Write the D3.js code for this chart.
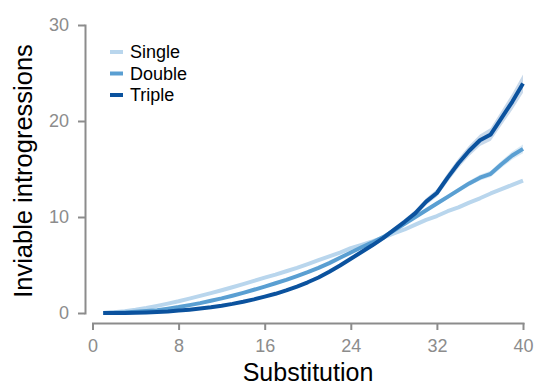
<!DOCTYPE html>
<html>
<head>
<meta charset="utf-8">
<style>
  body { margin: 0; background: #fff; }
  text { font-family: "Liberation Sans", Arial, sans-serif; }
  .axis path, .axis line { stroke: #8c8c8c; stroke-width: 2; }
  .axis text { fill: #8c8c8c; font-size: 18px; }
</style>
</head>
<body>
<svg width="535" height="386"></svg>
<script src="https://d3js.org/d3.v7.min.js"></script>
<script>

var substitution = d3.range(1, 41);

var single = [0, 0.07, 0.18, 0.33, 0.52, 0.74, 0.98, 1.22, 1.5, 1.78,
  2.07, 2.37, 2.68, 3.0, 3.34, 3.68, 4.0, 4.35, 4.7, 5.1,
  5.5, 5.9, 6.3, 6.75, 7.1, 7.45, 7.85, 8.3, 8.7, 9.2,
  9.7, 10.1, 10.6, 11.0, 11.5, 11.95, 12.45, 12.9, 13.35, 13.8];

var double = [0, 0.02, 0.06, 0.12, 0.2, 0.3, 0.45, 0.62, 0.82, 1.03,
  1.27, 1.52, 1.8, 2.1, 2.42, 2.75, 3.1, 3.45, 3.85, 4.25,
  4.7, 5.2, 5.75, 6.3, 6.85, 7.35, 7.9, 8.6, 9.3, 10.0,
  10.7, 11.4, 12.1, 12.8, 13.5, 14.1, 14.5, 15.5, 16.4, 17.1];

var triple = [0, 0, 0.01, 0.03, 0.06, 0.1, 0.16, 0.25, 0.35, 0.47,
  0.6, 0.76, 0.95, 1.17, 1.42, 1.7, 2.0, 2.35, 2.75, 3.2,
  3.7, 4.3, 4.95, 5.65, 6.35, 7.05, 7.8, 8.65, 9.5, 10.4,
  11.6, 12.5, 14.1, 15.6, 16.9, 18.0, 18.6, 20.3, 22.0, 23.9];

// half width of the shaded band round each line
var singleErr = [0, 0, 0, 0, 0, 0, 0, 0, 0, 0,
  0, 0, 0, 0, 0, 0.02, 0.02, 0.02, 0.03, 0.03,
  0.03, 0.04, 0.04, 0.04, 0.05, 0.05, 0.05, 0.06, 0.06, 0.07,
  0.07, 0.08, 0.08, 0.09, 0.09, 0.1, 0.1, 0.11, 0.12, 0.12];

var doubleErr = [0, 0, 0, 0, 0, 0, 0, 0, 0, 0.02,
  0.02, 0.03, 0.03, 0.04, 0.04, 0.05, 0.05, 0.06, 0.06, 0.07,
  0.08, 0.08, 0.09, 0.1, 0.11, 0.12, 0.13, 0.14, 0.15, 0.17,
  0.19, 0.2, 0.22, 0.25, 0.28, 0.3, 0.33, 0.37, 0.42, 0.46];

var tripleErr = [0, 0, 0, 0, 0, 0, 0, 0.02, 0.02, 0.03,
  0.03, 0.04, 0.05, 0.05, 0.06, 0.07, 0.08, 0.09, 0.1, 0.11,
  0.12, 0.14, 0.15, 0.17, 0.19, 0.21, 0.23, 0.26, 0.29, 0.32,
  0.36, 0.4, 0.45, 0.5, 0.55, 0.6, 0.66, 0.74, 0.84, 0.95];

var seriesNames = ["Single", "Double", "Triple"];
var colors = ["#b9d6ed", "#5a9fd2", "#0b529e"];
var xTicks = [0, 8, 16, 24, 32, 40];
var yTicks = [0, 10, 20, 30];

var series = [
  { name: seriesNames[0], values: single, err: singleErr, color: colors[0] },
  { name: seriesNames[1], values: double, err: doubleErr, color: colors[1] },
  { name: seriesNames[2], values: triple, err: tripleErr, color: colors[2] }
];

var svg = d3.select("svg");

var x = d3.scaleLinear().domain([0, 40]).range([92.5, 523]);
var y = d3.scaleLinear().domain([0, 30]).range([313, 25]);

// shaded bands first, lines on top
series.forEach(function(s) {
  var area = d3.area()
      .x(function(d, i) { return x(substitution[i]); })
      .y0(function(d, i) { return y(d - s.err[i]); })
      .y1(function(d, i) { return y(d + s.err[i]); });
  svg.append("path")
      .datum(s.values)
      .attr("d", area)
      .attr("fill", s.color)
      .attr("fill-opacity", 0.22);
});

series.forEach(function(s) {
  var line = d3.line()
      .x(function(d, i) { return x(substitution[i]); })
      .y(function(d) { return y(d); });
  svg.append("path")
      .datum(s.values)
      .attr("d", line)
      .attr("fill", "none")
      .attr("stroke", s.color)
      .attr("stroke-width", 4)
      .attr("stroke-linejoin", "round");
});

svg.append("g")
    .attr("class", "axis")
    .attr("transform", "translate(0,323)")
    .call(d3.axisBottom(x).tickValues(xTicks).tickSize(7).tickSizeOuter(0).tickPadding(9));

svg.append("g")
    .attr("class", "axis")
    .attr("transform", "translate(85,0)")
    .call(d3.axisLeft(y).tickValues(yTicks).tickSize(7).tickSizeOuter(0).tickPadding(9));

svg.selectAll(".axis .domain").attr("stroke-linecap", "square");

svg.append("text")
    .attr("x", 308)
    .attr("y", 381)
    .attr("text-anchor", "middle")
    .style("font-size", "25px")
    .text("Substitution");

svg.append("text")
    .attr("transform", "translate(32,171) rotate(-90)")
    .attr("text-anchor", "middle")
    .style("font-size", "25.5px")
    .text("Inviable introgressions");

var legend = svg.append("g").attr("transform", "translate(110,52)");
series.forEach(function(s, i) {
  var g = legend.append("g").attr("transform", "translate(0," + i * 21.5 + ")");
  g.append("line")
      .attr("x1", 0).attr("x2", 13)
      .attr("stroke", s.color)
      .attr("stroke-width", 4);
  g.append("text")
      .attr("x", 20)
      .attr("dy", "0.36em")
      .style("font-size", "18px")
      .text(s.name);
});

</script>
</body>
</html>
